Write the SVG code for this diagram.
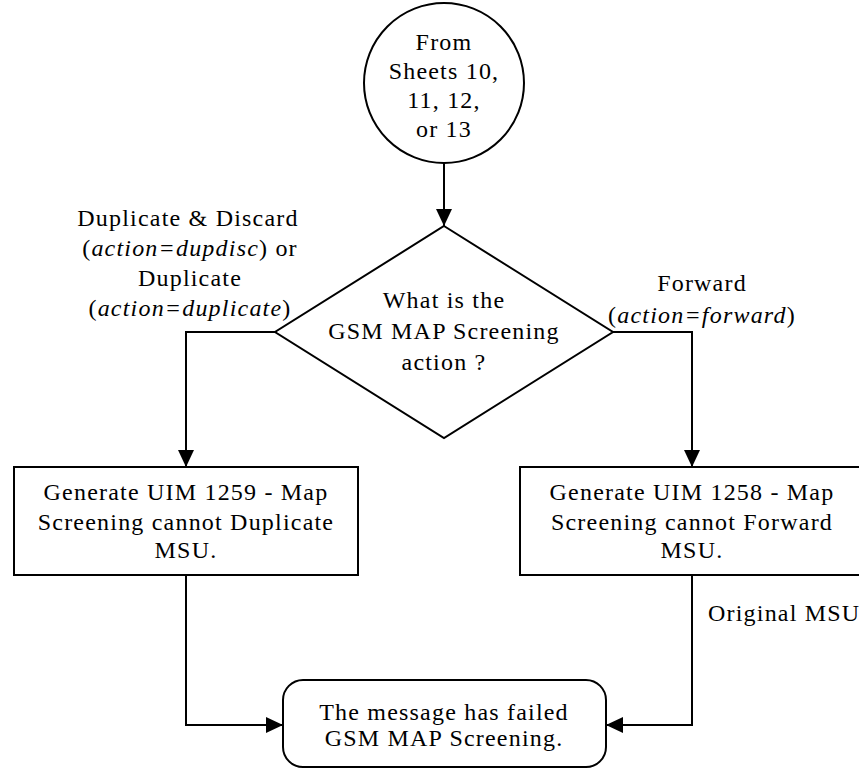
<svg xmlns="http://www.w3.org/2000/svg" width="859" height="769" viewBox="0 0 859 769">
<style>
.s{fill:#fff;stroke:#000;stroke-width:2}
.c{fill:none;stroke:#000;stroke-width:2}
text{font-family:"Liberation Serif","Times New Roman",serif;font-size:24px;fill:#000;letter-spacing:1.2px}
.m{text-anchor:middle}
.i{font-style:italic}
</style>
<defs>
<marker id="ah" markerWidth="18" markerHeight="18" viewBox="0 0 18 18" refX="17" refY="8" orient="auto" markerUnits="userSpaceOnUse">
<path d="M0,0 L17,8 L0,16 Z" fill="#000"/>
</marker>
</defs>
<g id="connectors">
<path class="c" d="M444,163 L444,226" marker-end="url(#ah)"/>
<path class="c" d="M275,332 L186,332 L186,467" marker-end="url(#ah)"/>
<path class="c" d="M613,332 L692,332 L692,467" marker-end="url(#ah)"/>
<path class="c" d="M186,575 L186,725 L283,725" marker-end="url(#ah)"/>
<path class="c" d="M692,575 L692,725 L606,725" marker-end="url(#ah)"/>
</g>
<g id="start">
<circle class="s" cx="444" cy="83" r="80"/>
<text class="m" x="444" y="50">From</text>
<text class="m" x="444" y="79">Sheets 10,</text>
<text class="m" x="444" y="108">11, 12,</text>
<text class="m" x="444" y="137">or 13</text>
</g>
<g id="decision">
<path class="s" d="M444,226 L613,332 L444,438 L275,332 Z"/>
<text class="m" x="444" y="308">What is the</text>
<text class="m" x="444" y="339">GSM MAP Screening</text>
<text class="m" x="444" y="370">action ?</text>
</g>
<g id="label-dup">
<text class="m" x="188" y="226">Duplicate &amp; Discard</text>
<text class="m" x="190" y="256">(<tspan class="i">action=dupdisc</tspan>) or</text>
<text class="m" x="190" y="286">Duplicate</text>
<text class="m" x="190" y="316">(<tspan class="i">action=duplicate</tspan>)</text>
</g>
<g id="label-fwd">
<text class="m" x="702" y="291">Forward</text>
<text class="m" x="702" y="323">(<tspan class="i">action=forward</tspan>)</text>
</g>
<g id="box-dup">
<rect class="s" x="14" y="467" width="344" height="108"/>
<text class="m" x="186" y="500">Generate UIM 1259 - Map</text>
<text class="m" x="186" y="530">Screening cannot Duplicate</text>
<text class="m" x="186" y="558">MSU.</text>
</g>
<g id="box-fwd">
<rect class="s" x="520" y="467" width="344" height="108"/>
<text class="m" x="692" y="500">Generate UIM 1258 - Map</text>
<text class="m" x="692" y="530">Screening cannot Forward</text>
<text class="m" x="692" y="558">MSU.</text>
</g>
<g id="label-orig">
<text x="708" y="621">Original MSU</text>
</g>
<g id="end">
<rect class="s" x="283" y="680" width="323" height="87" rx="20" ry="20"/>
<text class="m" x="444" y="720">The message has failed</text>
<text class="m" x="444" y="746">GSM MAP Screening.</text>
</g>
</svg>
